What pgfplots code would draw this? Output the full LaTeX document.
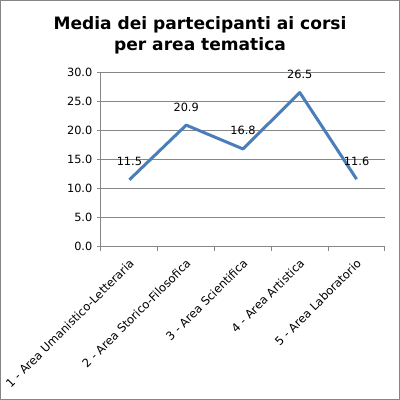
\documentclass[border=0pt]{standalone}
\usepackage{pgfplots}
\pgfplotsset{compat=1.18}
\usepackage{fontspec}
\setmainfont{DejaVu Sans}
\definecolor{linea}{RGB}{74,126,187}
\definecolor{assi}{RGB}{134,134,134}
\begin{document}
\begin{tikzpicture}
% bordo del grafico (1px = 0.75pt, origine nell'angolo in basso a sinistra dell'area del tracciato)
\draw[assi, line width=0.75pt] (-75.4pt,-114.6pt) rectangle (223.9pt,184.6pt);
\node[font=\bfseries\fontsize{12.8}{16}\selectfont, align=center, anchor=base] at (74.25pt,146.8pt)
  {Media dei partecipanti ai corsi\\per area tematica};
\begin{axis}[
    scale only axis,
    width=213pt, height=130.8pt,
    xmin=0.5, xmax=5.5,
    ymin=0, ymax=30,
    xtick={1,2,3,4,5},
    xticklabels={1 - Area Umanistico-Letteraria, 2 - Area Storico-Filosofica, 3 - Area Scientifica, 4 - Area Artistica, 5 - Area Laboratorio},
    minor xtick={0.5,1.5,2.5,3.5,4.5,5.5},
    major x tick style={draw=none},
    ytick={0,5,10,15,20,25,30},
    yticklabel style={/pgf/number format/.cd, fixed, fixed zerofill, precision=1},
    /pgf/number format/assume math mode=true,
    tick align=outside,
    major tick length=3pt, minor tick length=3pt,
    axis x line*=bottom, axis y line*=left,
    axis line style={assi, line width=0.75pt},
    tick style={assi, line width=0.75pt},
    ymajorgrids=true,
    grid style={assi, line width=0.75pt},
    ticklabel style={font=\fontsize{8.5}{10}\selectfont},
    xticklabel style={rotate=45, anchor=north east, font=\fontsize{8.7}{10}\selectfont, xshift=-1pt},
    nodes near coords,
    point meta=explicit symbolic,
    nodes near coords style={font=\fontsize{8.5}{10}\selectfont, text=black, anchor=south, yshift=6pt},
]
\addplot[color=linea, line width=2.25pt, line join=round, mark=none]
  coordinates {(1,11.5)[11.5] (2,20.9)[20.9] (3,16.8)[16.8] (4,26.5)[26.5] (5,11.6)[11.6]};
\end{axis}
\pgfresetboundingbox
\path[use as bounding box] (-75.75pt,-114.95pt) rectangle (224.25pt,184.95pt);
\end{tikzpicture}
\end{document}
